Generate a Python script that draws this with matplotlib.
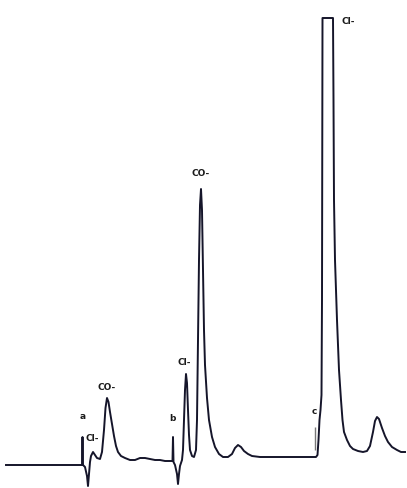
import numpy as np
import matplotlib
matplotlib.use('Agg')
import matplotlib.pyplot as plt

# trace (time in px, signal = 488 - px row)
time = [6, 82, 82.5, 83, 85, 87, 88, 89, 90, 91, 93, 95, 97, 100, 102, 104,
        105.5, 107, 108.5, 110, 112, 114, 116, 118, 121, 125, 130, 135, 140,
        145, 150, 155, 160, 165, 170, 172.5, 173, 173.5, 175, 177, 178, 179,
        180, 182, 183, 184, 185, 186, 187, 188, 189, 190, 192, 194, 196, 197,
        198, 199, 200, 201, 202, 203, 204, 205, 207, 209, 212, 215,
        219, 223, 228, 232, 235, 238, 241, 244, 248, 252, 260, 300, 316,
        317.5, 318.5, 319.5, 320.5, 321.5, 322, 322.5, 333, 333.5, 334, 335,
        337, 339, 341, 342.5, 344, 347, 350, 353, 358, 363, 367, 370, 373, 375,
        377, 379, 382, 385, 388, 392, 397, 401, 405]
row = [465, 465, 437, 465, 467, 476, 486, 474, 462, 456, 452, 455, 458, 459,
       452, 430, 408, 398, 402, 412, 424, 436, 446, 452, 456, 458, 460, 460,
       458, 458, 459, 460, 460, 461, 461, 461, 437, 462, 465, 474, 484, 474,
       466, 460, 450, 420, 390, 374, 383, 410, 435, 450, 456, 457, 450, 420,
       340, 260, 205, 189, 210, 270, 330, 365, 398, 420, 437, 447,
       454, 457, 457, 454, 448, 445, 447, 451, 454, 456, 457, 457, 457,
       455, 440, 420, 410, 395, 300, 18, 18, 100, 200, 260,
       320, 370, 400, 420, 432, 440, 446, 449, 451, 452, 451, 446, 432, 421,
       417, 419, 428, 436, 442, 447, 450, 452, 452]
signal = [488 - r for r in row]

# peak / marker labels
label_text = ['a', 'Cl-', 'CO-', 'b', 'Cl-', 'CO-', 'c', 'Cl-']
label_time = [83, 92, 107, 172, 184, 201, 314, 348]
label_signal = [488 - r for r in [421, 443, 392, 423, 367, 178, 416, 26]]

# separate tick under the "c" marker
c_time = [315]
c_lo = [488 - 450]
c_hi = [488 - 427]

fig = plt.figure(figsize=(4.07, 4.88), dpi=100, facecolor='w')
ax = fig.add_axes([0, 0, 1, 1])
ax.set_xlim(0, 407)
ax.set_ylim(0, 488)
ax.axis('off')

ax.plot(time, signal, color='#15152a', lw=1.4, solid_joinstyle='round')
ax.vlines(c_time, c_lo, c_hi, color='#777777', lw=1.0)

for t, x, y in zip(label_text, label_time, label_signal):
    ax.text(x, y, t, fontsize=6.5, fontweight='bold', ha='center', va='bottom',
            color='#1a1a1a')

fig.savefig('out.png', dpi=100)
